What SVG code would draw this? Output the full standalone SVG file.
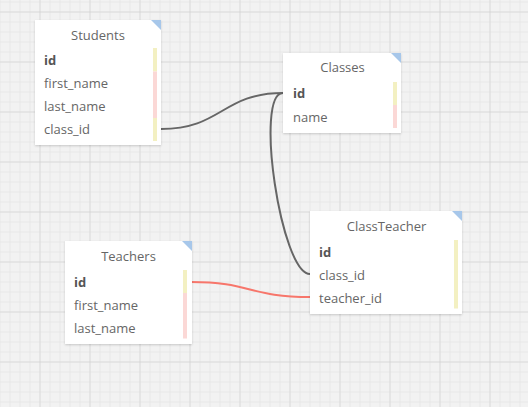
<svg xmlns="http://www.w3.org/2000/svg" width="528" height="407" viewBox="0 0 528 407">
<defs>
<pattern id="minor" x="9.5" y="1.5" width="10" height="10" patternUnits="userSpaceOnUse">
<path d="M0 0H10M0 0V10" fill="none" stroke="#e0e0e0" stroke-width="1"/>
</pattern>
<pattern id="major" x="39.5" y="11.5" width="50" height="50" patternUnits="userSpaceOnUse">
<path d="M0 0H50M0 0V50" fill="none" stroke="#cdcdcd" stroke-width="1"/>
</pattern>
<filter id="sh" x="-10%" y="-10%" width="120%" height="120%">
<feDropShadow dx="0" dy="1" stdDeviation="1.2" flood-color="#000" flood-opacity="0.18"/>
</filter>
</defs>
<style>
.card{fill:#ffffff;filter:url(#sh)}
.corner{fill:#a7c7ea}
.title{font-family:"Open Sans","Liberation Sans",sans-serif;font-size:13px;fill:#666;text-anchor:middle}
.row{font-family:"Open Sans","Liberation Sans",sans-serif;font-size:13px;fill:#666}
.pk{font-family:"Open Sans","Liberation Sans",sans-serif;font-size:13px;fill:#555;font-weight:bold}
.y{fill:#f3f0c2}
.p{fill:#fbd8d6}
.link{fill:none;stroke:#666;stroke-width:2}
.red{fill:none;stroke:#f7766b;stroke-width:2}
</style>
<rect width="528" height="407" fill="#f2f2f2"/>
<rect width="528" height="407" fill="url(#minor)"/>
<rect width="528" height="407" fill="url(#major)"/>

<g id="connectors">
<path class="link" d="M161 129 C222 129 222 93 283 93"/>
<path class="link" d="M283 93 C254 93 281 274 310 274"/>
<path class="red" d="M191 282 C250 282 250 297 310 297"/>
</g>

<g id="Students">
<rect class="card" x="35" y="20" width="126" height="125"/>
<path class="corner" d="M151 20H161V30Z"/>
<text class="title" x="98" y="40">Students</text>
<rect class="y" x="153" y="48" width="4" height="23.5"/>
<rect class="p" x="153" y="71.5" width="4" height="46.5"/>
<rect class="y" x="153" y="118" width="4" height="23"/>
<text class="pk" x="44" y="65">id</text>
<text class="row" x="44" y="88">first_name</text>
<text class="row" x="44" y="111">last_name</text>
<text class="row" x="44" y="134">class_id</text>
</g>

<g id="Classes">
<rect class="card" x="283" y="53" width="118" height="80"/>
<path class="corner" d="M391 53H401V63Z"/>
<text class="title" x="342.5" y="72">Classes</text>
<rect class="y" x="393" y="82" width="4" height="23"/>
<rect class="p" x="393" y="105" width="4" height="23"/>
<text class="pk" x="293" y="98">id</text>
<text class="row" x="293" y="121.5">name</text>
</g>

<g id="ClassTeacher">
<rect class="card" x="310" y="211" width="152" height="103"/>
<path class="corner" d="M452 211H462V221Z"/>
<text class="title" x="386.5" y="230.5">ClassTeacher</text>
<rect class="y" x="454" y="240" width="4" height="68.5"/>
<text class="pk" x="319" y="256.5">id</text>
<text class="row" x="319" y="279.5">class_id</text>
<text class="row" x="319" y="302.5">teacher_id</text>
</g>

<g id="Teachers">
<rect class="card" x="65" y="241" width="127" height="103"/>
<path class="corner" d="M182 241H192V251Z"/>
<text class="title" x="128.5" y="260.5">Teachers</text>
<rect class="y" x="183" y="270" width="4" height="23"/>
<rect class="p" x="183" y="293" width="4" height="45.5"/>
<text class="pk" x="74" y="286.5">id</text>
<text class="row" x="74" y="309.5">first_name</text>
<text class="row" x="74" y="332.5">last_name</text>
</g>
</svg>
